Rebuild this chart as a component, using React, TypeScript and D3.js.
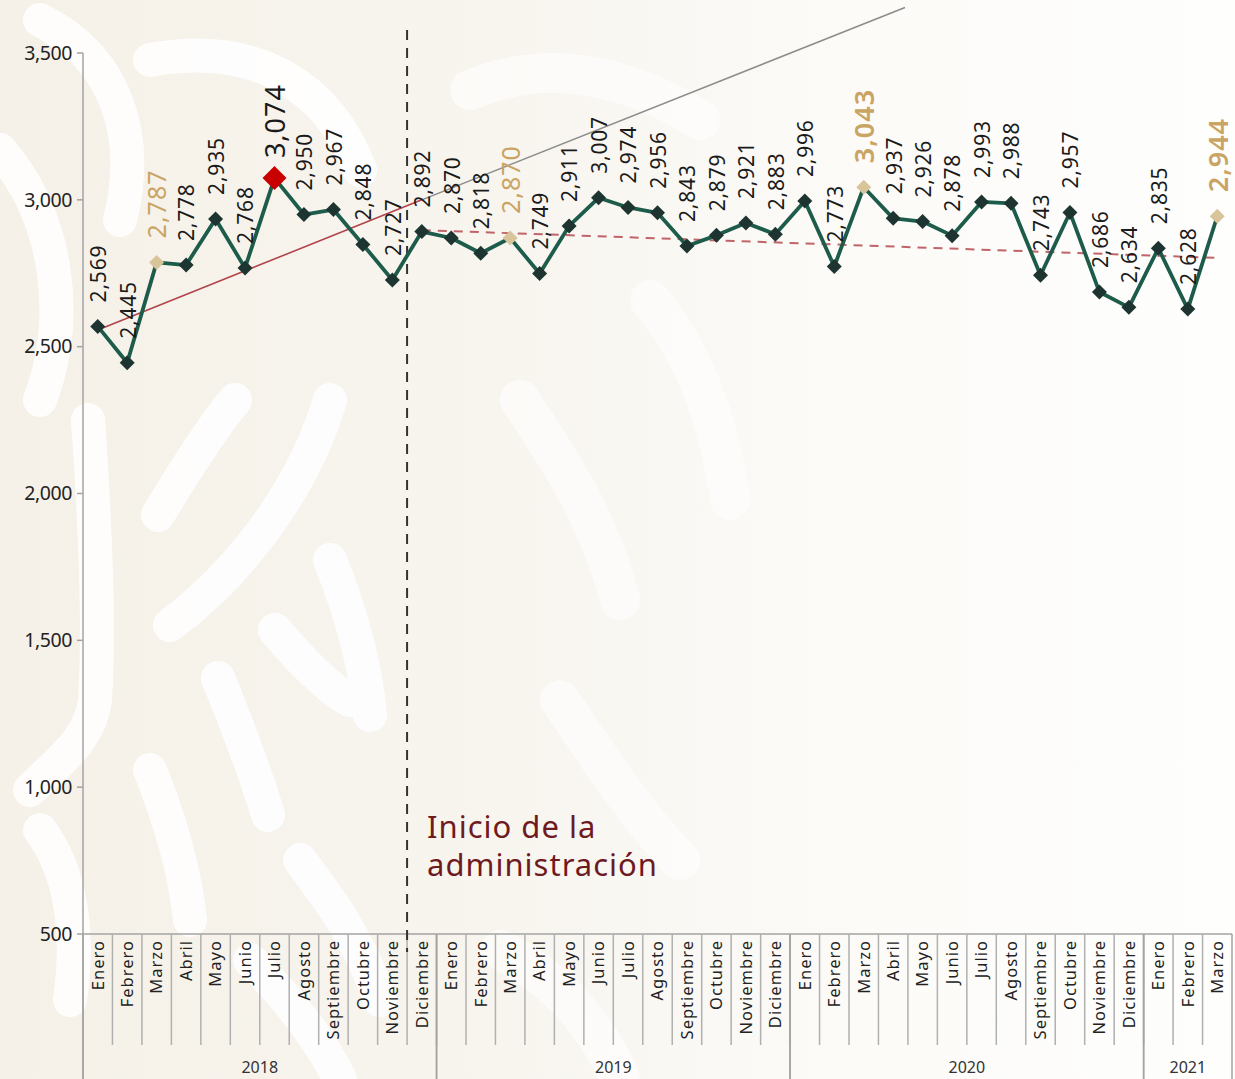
import React from 'react'
import { scaleLinear, line } from 'd3'

const months = [
  'Enero', 'Febrero', 'Marzo', 'Abril', 'Mayo', 'Junio', 'Julio', 'Agosto', 'Septiembre', 'Octubre', 'Noviembre', 'Diciembre',
  'Enero', 'Febrero', 'Marzo', 'Abril', 'Mayo', 'Junio', 'Julio', 'Agosto', 'Septiembre', 'Octubre', 'Noviembre', 'Diciembre',
  'Enero', 'Febrero', 'Marzo', 'Abril', 'Mayo', 'Junio', 'Julio', 'Agosto', 'Septiembre', 'Octubre', 'Noviembre', 'Diciembre',
  'Enero', 'Febrero', 'Marzo',
]

const values = [
  2569, 2445, 2787, 2778, 2935, 2768, 3074, 2950, 2967, 2848, 2727, 2892,
  2870, 2818, 2870, 2749, 2911, 3007, 2974, 2956, 2843, 2879, 2921, 2883,
  2996, 2773, 3043, 2937, 2926, 2878, 2993, 2988, 2743, 2957, 2686, 2634,
  2835, 2628, 2944,
]

// year groups: [label, first index, last index]
const years: [string, number, number][] = [
  ['2018', 0, 11],
  ['2019', 12, 23],
  ['2020', 24, 35],
  ['2021', 36, 38],
]

const yTicks = [500, 1000, 1500, 2000, 2500, 3000, 3500]

const tanIdx = [2, 14, 26, 38]
const boldIdx = [26, 38]
const maxIdx = 6

// trend lines as [index, value]
const trendPre: [number, number][] = [[0, 2557], [11, 3000]]
const trendProj: [number, number][] = [[11, 3000], [27.4, 3655]]
const trendPost: [number, number][] = [[11, 2897], [38.1, 2802]]

const startIdx = 10.5 // between Noviembre and Diciembre 2018

const FONT = '"Noto Sans", sans-serif'
const W = 1235
const H = 1079

// decorative background swirls (left side, strong)
const swirlsLeft = [
  'M40,20 C120,60 140,140 120,220',
  'M150,60 C260,40 330,90 360,170',
  'M0,150 C60,220 70,320 40,400',
  'M88,420 C95,520 100,620 95,700 C90,740 60,760 30,790',
  'M158,515 C185,470 210,430 235,400',
  'M170,625 C230,580 300,500 330,400',
  'M218,678 C235,720 255,770 268,815',
  'M330,560 C350,610 365,660 370,715',
  'M275,630 C300,660 330,690 350,700',
  'M150,770 C170,820 185,870 190,920',
  'M40,830 C70,870 80,930 70,1000',
  'M300,860 C330,900 360,940 380,1000',
  'M250,960 C290,1000 320,1040 340,1079',
]
// right side, faint
const swirlsRight = [
  'M470,90 C540,60 620,70 700,120',
  'M520,400 C560,460 600,520 620,600',
  'M650,300 C700,360 720,430 730,500',
  'M560,700 C600,760 640,820 680,860',
  'M500,950 C560,980 600,1030 620,1079',
]

export default function App(): JSX.Element {
  const x = scaleLinear().domain([-0.5, 38.5]).range([83, 1232])
  const y = scaleLinear().domain([500, 3500]).range([934, 53])

  const pathFn = line<number>()
    .x((_d, i) => x(i))
    .y((d) => y(d))

  const trendFn = line<[number, number]>()
    .x((d) => x(d[0]))
    .y((d) => y(d[1]))

  const diamond = (cx: number, cy: number, r: number) =>
    `M${cx},${cy - r}L${cx + r},${cy}L${cx},${cy + r}L${cx - r},${cy}Z`

  return (
    <svg width={W} height={H} style={{ position: 'absolute', left: 0, top: 0 }} xmlns="http://www.w3.org/2000/svg">
      <defs>
        <linearGradient id="bg" x1="0" x2="1" y1="0" y2="0">
          <stop offset="0" stopColor="#f5f1e8" />
          <stop offset="0.4" stopColor="#f8f5ef" />
          <stop offset="0.7" stopColor="#fcfbf8" />
          <stop offset="1" stopColor="#fefefd" />
        </linearGradient>
      </defs>
      <rect width={W} height={H} fill="url(#bg)" />
      <g fill="none" stroke="#ffffff" strokeWidth={34} strokeLinecap="round" opacity={0.9}>
        {swirlsLeft.map((d, i) => (
          <path key={i} d={d} />
        ))}
      </g>
      <g fill="none" stroke="#ffffff" strokeWidth={40} strokeLinecap="round" opacity={0.6}>
        {swirlsRight.map((d, i) => (
          <path key={i} d={d} />
        ))}
      </g>

      {/* y axis */}
      <line x1={83} x2={83} y1={y(3500)} y2={H} stroke="#a3a3a3" strokeWidth={1.5} />
      {yTicks.map((t) => (
        <g key={t}>
          <line x1={77} x2={83} y1={y(t)} y2={y(t)} stroke="#a3a3a3" strokeWidth={1.5} />
          <text x={72} y={y(t)} dy="0.35em" textAnchor="end" fontFamily={FONT} fontSize={19.5} fill="#222" letterSpacing={-0.4}>
            {t.toLocaleString('en-US')}
          </text>
        </g>
      ))}

      {/* x axis */}
      <line x1={83} x2={1232} y1={934} y2={934} stroke="#a3a3a3" strokeWidth={1.5} />
      {months.map((_m, i) => (i > 0 ? (
        <line key={i} x1={x(i - 0.5)} x2={x(i - 0.5)} y1={934} y2={1045} stroke="#b0b0b0" strokeWidth={1.5} />
      ) : null))}
      {years.map(([yr, a, b]) => (
        <g key={yr}>
          <line x1={x(a - 0.5)} x2={x(a - 0.5)} y1={934} y2={H} stroke="#a3a3a3" strokeWidth={1.5} />
          <line x1={x(b + 0.5)} x2={x(b + 0.5)} y1={934} y2={H} stroke="#a3a3a3" strokeWidth={1.5} />
          <text x={(x(a - 0.5) + x(b + 0.5)) / 2} y={1073} textAnchor="middle" fontFamily={FONT} fontSize={16} fill="#333">
            {yr}
          </text>
        </g>
      ))}
      {months.map((m, i) => (
        <text
          key={i}
          transform={`translate(${x(i)},940) rotate(-90)`}
          dy="0.35em"
          textAnchor="end"
          fontFamily={FONT}
          fontSize={16.5}
          letterSpacing={1}
          fill="#222"
        >
          {m}
        </text>
      ))}

      {/* start of administration */}
      <line
        x1={x(startIdx)}
        x2={x(startIdx)}
        y1={30}
        y2={952}
        stroke="#333"
        strokeWidth={2}
        strokeDasharray="10 8"
      />
      <text fontFamily={FONT} fontSize={31} fill="#6e1a1e" letterSpacing={1}>
        <tspan x={427} y={838}>Inicio de la</tspan>
        <tspan x={427} y={876}>administración</tspan>
      </text>

      {/* trends */}
      <path d={trendFn(trendProj) ?? ''} fill="none" stroke="#8c8c8c" strokeWidth={1.5} />
      <path d={trendFn(trendPre) ?? ''} fill="none" stroke="#b3434b" strokeWidth={1.6} />
      <path d={trendFn(trendPost) ?? ''} fill="none" stroke="#c0646a" strokeWidth={2} strokeDasharray="9 7" />

      {/* series */}
      <path d={pathFn(values) ?? ''} fill="none" stroke="#1d5c4a" strokeWidth={3.8} strokeLinejoin="round" />
      {values.map((v, i) => {
        const cx = x(i)
        const cy = y(v)
        const isMax = i === maxIdx
        const isTan = tanIdx.includes(i)
        const fill = isMax ? '#c80000' : isTan ? '#d8c59c' : '#1e3430'
        return <path key={i} d={diamond(cx, cy, isMax ? 12 : 7.5)} fill={fill} />
      })}

      {/* labels */}
      {values.map((v, i) => {
        const cx = x(i)
        const cy = y(v)
        const isMax = i === maxIdx
        const isTan = tanIdx.includes(i)
        const isBold = boldIdx.includes(i)
        const big = isMax || isTan
        return (
          <text
            key={i}
            transform={`translate(${cx + 1},${cy - (isMax ? 20 : 24)}) rotate(-90)`}
            dy="0.35em"
            fontFamily={FONT}
            fontSize={big ? (isTan && !isBold ? 25 : 27) : 21}
            fontWeight={isBold ? 600 : 400}
            letterSpacing={big ? 1 : 0.8}
            fill={isTan ? '#c9a462' : '#1a1a1a'}
          >
            {v.toLocaleString('en-US')}
          </text>
        )
      })}
    </svg>
  )
}
